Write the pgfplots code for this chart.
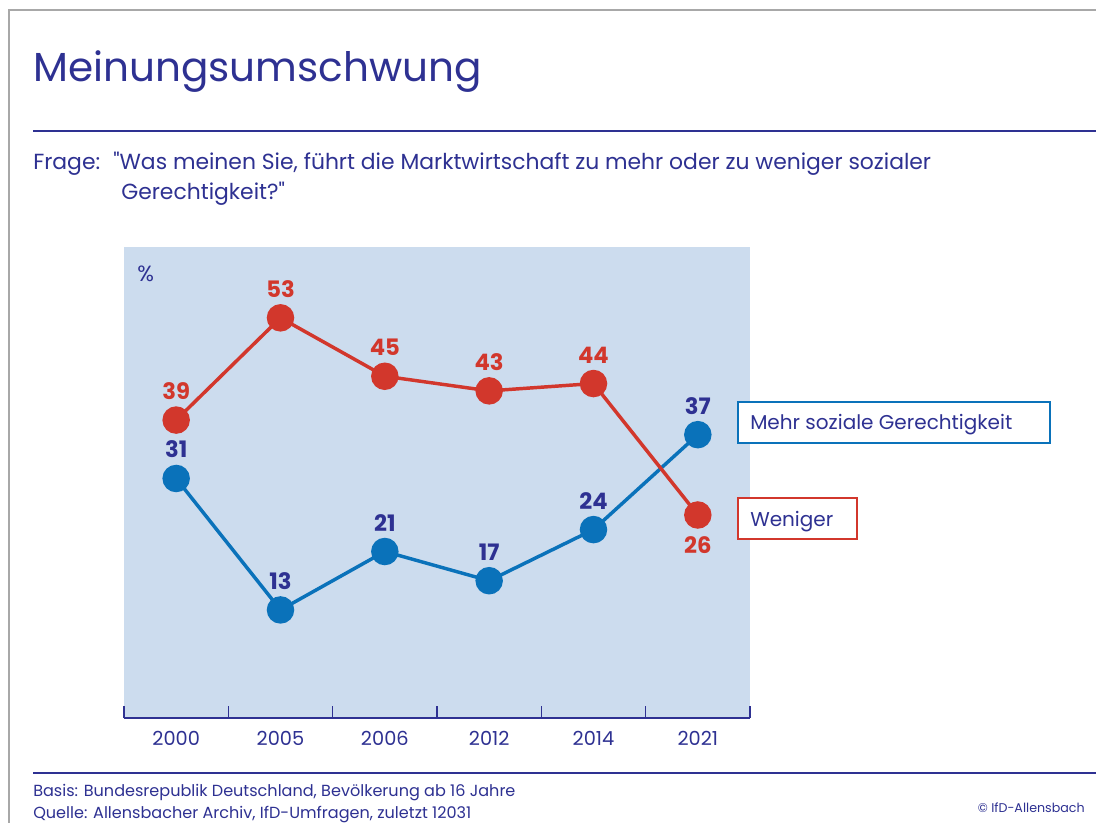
\documentclass[border=0pt]{standalone}
\usepackage{pgfplots}
\pgfplotsset{compat=1.18}
\usepackage{fontspec}
\setmainfont{Poppins}[Ligatures=TeXOff]
\definecolor{navy}{HTML}{2E3192}
\definecolor{redc}{HTML}{D2372C}
\definecolor{bluec}{HTML}{0A72BA}
\definecolor{bgblue}{HTML}{CCDCEE}
\definecolor{framegray}{HTML}{A8A8A8}
\begin{document}
\begin{tikzpicture}[x=0.75pt,y=-0.75pt]
\path[use as bounding box] (0,0) rectangle (1096,823);
\fill[white] (0,0) rectangle (1096,823);
% frame
\draw[framegray,line width=1.5pt] (9,823) -- (9,10) -- (1096,10);
% title
\node[anchor=base west,inner sep=0pt,text=navy,font=\fontsize{30.4}{36}\selectfont] at (33,82) {Meinungsumschwung};
\draw[navy,line width=0.9pt] (33,131) -- (1096,131);
% question
\node[anchor=base west,inner sep=0pt,text=navy,font=\fontsize{16.4}{19}\selectfont] at (33,170) {Frage:};
\node[anchor=base west,inner sep=0pt,text=navy,font=\fontsize{16.4}{19}\selectfont] at (113,170) {"Was meinen Sie, führt die Marktwirtschaft zu mehr oder zu weniger sozialer};
\node[anchor=base west,inner sep=0pt,text=navy,font=\fontsize{16.4}{19}\selectfont] at (121,200) {Gerechtigkeit?"};
% axis
\begin{axis}[
  at={(93pt,-538.5pt)}, anchor=south west,
  scale only axis, width=469.5pt, height=353.25pt,
  xmin=-0.5, xmax=5.5, ymin=-1.8, ymax=62.7,
  axis x line*=bottom, axis y line=none,
  axis line style={navy, line width=0.9pt},
  axis background/.style={fill=bgblue},
  xtick={0,...,5},
  xticklabels={2000,2005,2006,2012,2014,2021},
  major tick length=0pt,
  minor xtick={-0.5,0.5,...,5.5},
  minor tick length=9pt,
  xtick align=inside,
  minor tick style={navy, line width=0.9pt},
  ytick=\empty,
  x tick label style={text=navy, font=\fontsize{14.5}{16}\selectfont, yshift=-6.5pt},
  clip=false,
  /pgf/number format/assume math mode=true,
  nodes near coords,
  every node near coord/.append style={font=\fontsize{17}{19}\selectfont\bfseries, inner sep=0pt, anchor=south, yshift=14pt},
]
\addplot[bluec, line width=2.6pt, mark=*, mark size=9pt,
  every node near coord/.append style={text=navy}]
  coordinates {(0,31) (1,13) (2,21) (3,17) (4,24) (5,37)};
\addplot[redc, line width=2.6pt, mark=*, mark size=9pt,
  every node near coord/.append style={text=redc},
  coordinate style/.condition={x==5}{yshift=-44.5pt}]
  coordinates {(0,39) (1,53) (2,45) (3,43) (4,44) (5,26)};
\end{axis}
% percent sign
\node[anchor=base west,inner sep=0pt,text=navy,font=\fontsize{16.5}{18}\selectfont] at (137,282) {\%};
% legend boxes
\draw[bluec,line width=1.5pt,fill=white] (738,402) rectangle (1050,443);
\node[anchor=base west,inner sep=0pt,text=navy,font=\fontsize{15}{18}\selectfont] at (750,430) {Mehr soziale Gerechtigkeit};
\draw[redc,line width=1.5pt,fill=white] (738,498) rectangle (857,539);
\node[anchor=base west,inner sep=0pt,text=navy,font=\fontsize{15}{18}\selectfont] at (750,526) {Weniger};
% footer
\draw[navy,line width=0.8pt] (33,773) -- (1096,773);
\node[anchor=base west,inner sep=0pt,text=navy,font=\fontsize{12.05}{14}\selectfont] at (33,796) {Basis: Bundesrepublik Deutschland, Bevölkerung ab 16 Jahre};
\node[anchor=base west,inner sep=0pt,text=navy,font=\fontsize{12.05}{14}\selectfont] at (33,818) {Quelle: Allensbacher Archiv, IfD-Umfragen, zuletzt 12031};
\node[anchor=base east,inner sep=0pt,text=navy,font=\fontsize{9.5}{12}\selectfont] at (1085,812) {© IfD-Allensbach};
\end{tikzpicture}
\end{document}
